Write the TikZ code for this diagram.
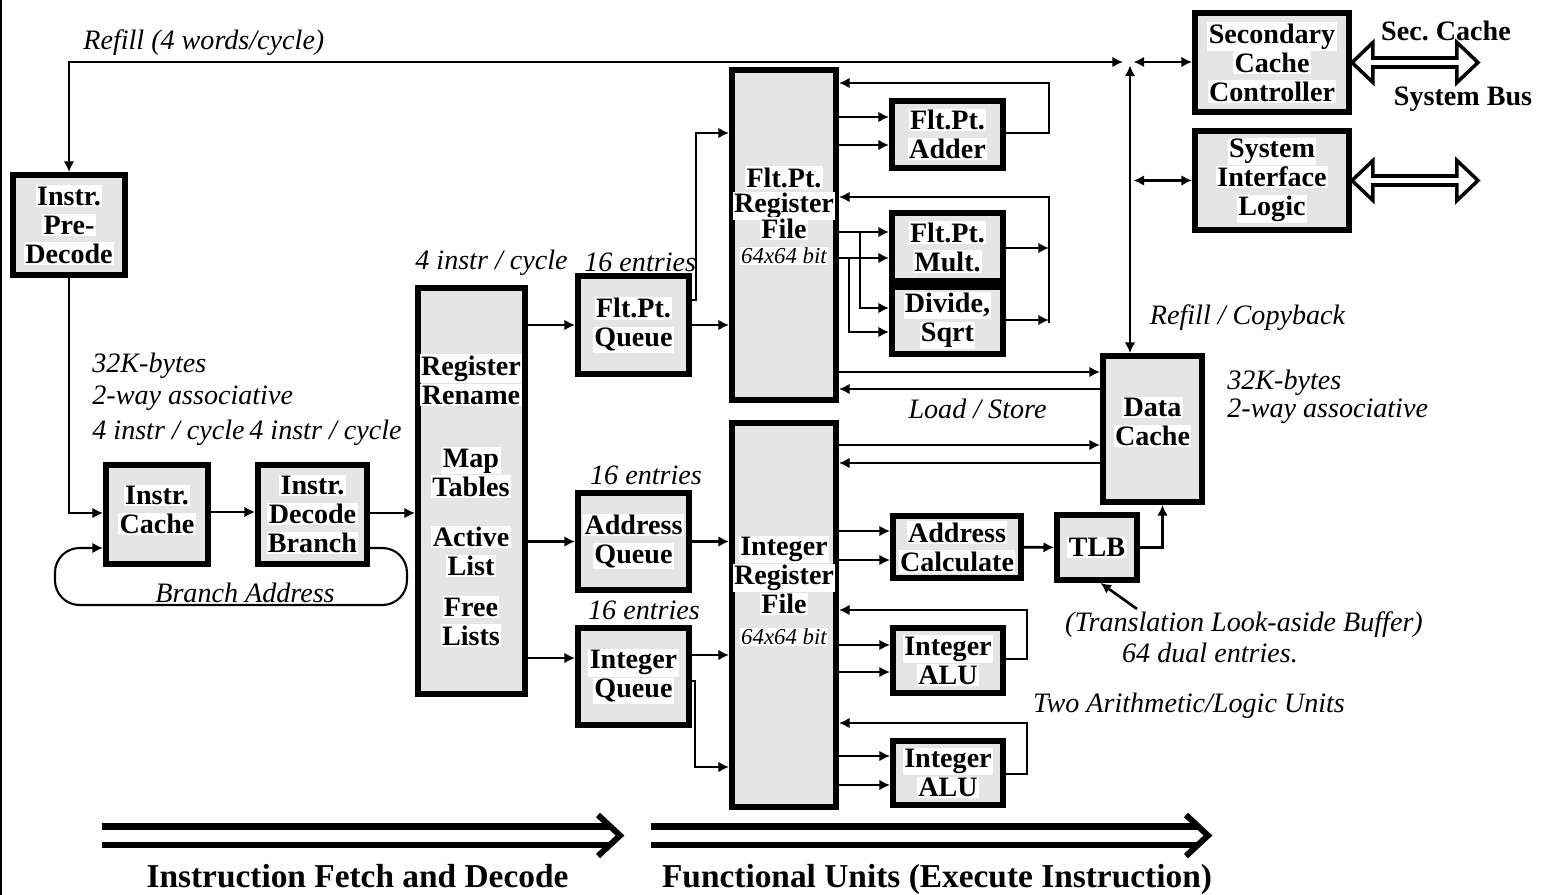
\documentclass[tikz,border=0pt]{standalone}
\usepackage{fontspec}
\setmainfont{Liberation Serif}
\usetikzlibrary{arrows.meta,calc}
\setlength{\fboxsep}{0.8pt}
\newcommand{\wt}[1]{\colorbox{white}{#1}}
\newcommand{\boxfont}{\fontsize{16}{16.5}\selectfont\bfseries\lineskiplimit=-30pt}
\newcommand{\rffont}{\fontsize{16}{14.5}\selectfont\bfseries\lineskiplimit=-30pt}
\newcommand{\lblfont}{\fontsize{16}{18}\selectfont\itshape}
\newcommand{\bitfont}{\fontsize{13}{14}\selectfont\itshape}

\begin{document}
\begin{tikzpicture}[x=0.02cm, y=-0.02cm,
blk/.style={draw, line width=3.4pt, fill=gray!20, align=center, inner sep=0pt, font=\boxfont},
txt/.style={align=center, inner sep=0pt, font=\boxfont},
lbl/.style={inner sep=0pt, font=\lblfont},
hdr/.style={inner sep=0pt, font=\fontsize{16}{18}\selectfont\bfseries},
arr/.style={-{Latex[length=6pt,width=6pt]}, line width=1.5pt},
arrb/.style={{Latex[length=6pt,width=6pt]}-{Latex[length=6pt,width=6pt]}, line width=1.5pt},
bus/.style={line width=2pt, fill=white, line join=miter},
bar/.style={line width=3.8pt}
]
\useasboundingbox (0,0) rectangle (1542,895);
\draw[line width=1.3pt] (1.2,0) -- (1.2,895);

% fetch and decode
\node[blk, minimum width=2.24cm, minimum height=2cm] (predec) at (69,225) {\wt{Instr.}\\\wt{Pre-}\\\wt{Decode}};
\node[blk, minimum width=2.04cm, minimum height=1.98cm] (icache) at (157,514.5) {};
\node[txt] (icachetxt) at (157,510) {\wt{Instr.}\\\wt{Cache}};
\node[blk, minimum width=2.18cm, minimum height=1.98cm] (decode) at (312.5,514.5) {\wt{Instr.}\\\wt{Decode}\\\wt{Branch}};
\node[blk, minimum width=2.14cm, minimum height=8.12cm] (rename) at (471.5,491) {};
\node[txt] (renameA) at (471,380) {\wt{Register}\\\wt{Rename}};
\node[txt] (renameB) at (471,472.5) {\wt{Map}\\\wt{Tables}};
\node[txt] (renameC) at (471,551.5) {\wt{Active}\\\wt{List}};
\node[txt] (renameD) at (471,621.5) {\wt{Free}\\\wt{Lists}};

% queues
\node[blk, minimum width=2.22cm, minimum height=1.96cm] (fpq) at (633.5,325) {\wt{Flt.Pt.}\\\wt{Queue}};
\node[blk, minimum width=2.22cm, minimum height=1.94cm] (addrq) at (633.5,541.5) {\wt{Address}\\\wt{Queue}};
\node[blk, minimum width=2.22cm, minimum height=1.94cm] (intq) at (633.5,676.5) {\wt{Integer}\\\wt{Queue}};

% register files
\node[blk, minimum width=2.08cm, minimum height=6.6cm] (fprf) at (784,235) {};
\node[txt, font=\rffont] (fprftxt) at (784,203) {\wt{Flt.Pt.}\\\wt{Register}\\\wt{File}};
\node[txt, font=\bitfont] (fprfbit) at (784,256) {\wt{64x64 bit}};
\node[blk, minimum width=2.08cm, minimum height=7.68cm] (irf) at (784,615) {};
\node[txt] (irftxt) at (784,575.5) {\wt{Integer}\\\wt{Register}\\\wt{File}};
\node[txt, font=\bitfont] (irfbit) at (784,637) {\wt{64x64 bit}};

% functional units
\node[blk, minimum width=2.22cm, minimum height=1.34cm] (fpadd) at (947.5,134.5) {\wt{Flt.Pt.}\\\wt{Adder}};
\node[blk, minimum width=2.22cm, minimum height=1.36cm] (fpmul) at (947.5,247) {\wt{Flt.Pt.}\\\wt{Mult.}};
\node[blk, minimum width=2.22cm, minimum height=1.34cm] (fpdiv) at (947.5,320.5) {\wt{Divide,}\\\wt{Sqrt}};
\node[blk, minimum width=2.56cm, minimum height=1.24cm] (addrcalc) at (957,547) {\wt{Address}\\\wt{Calculate}};
\node[blk, minimum width=1.6cm, minimum height=1.3cm] (tlb) at (1097,547.5) {\wt{TLB}};
\node[blk, minimum width=2.2cm, minimum height=1.3cm] (alu1) at (948,660.5) {\wt{Integer}\\\wt{ALU}};
\node[blk, minimum width=2.2cm, minimum height=1.28cm] (alu2) at (948,773) {\wt{Integer}\\\wt{ALU}};

% caches and interface
\node[blk, minimum width=1.98cm, minimum height=2.92cm] (dcache) at (1152.5,429) {};
\node[txt] (dcachetxt) at (1152.5,422) {\wt{Data}\\\wt{Cache}};
\node[blk, minimum width=3.08cm, minimum height=1.98cm] (seccache) at (1272,62.5) {\wt{Secondary}\\\wt{Cache}\\\wt{Controller}};
\node[blk, minimum width=3.08cm, minimum height=1.98cm] (sysif) at (1272,180.5) {\wt{System}\\\wt{Interface}\\\wt{Logic}};
\coordinate (jn) at (1130,62);
\coordinate (tlbptr) at (1137,609);

% labels
\node[lbl, anchor=west] (refilllbl) at (83,43) {Refill (4 words/cycle)};
\node[lbl, anchor=west] (ic32k) at (92,366) {32K-bytes};
\node[lbl, anchor=west] (icway) at (92,398) {2-way associative};
\node[lbl, anchor=west] (icrate) at (92,433) {4 instr / cycle};
\node[lbl, anchor=west] (decrate) at (249,433) {4 instr / cycle};
\node[lbl] (branchlbl) at (245,593) {Branch Address};
\node[lbl, anchor=west] (renrate) at (415,263) {4 instr / cycle};
\node[lbl, anchor=west] (fpqlbl) at (584,262) {16 entries};
\node[lbl] (addrqlbl) at (646,475) {16 entries};
\node[lbl] (intqlbl) at (644,610) {16 entries};
\node[lbl] (lslbl) at (977.5,409) {Load / Store};
\node[lbl] (copylbl) at (1247.5,318) {Refill / Copyback};
\node[lbl, anchor=west] (dc32k) at (1227,383) {32K-bytes};
\node[lbl, anchor=west] (dcway) at (1227,411) {2-way associative};
\node[lbl] (tlblbl) at (1244,625) {(Translation Look-aside Buffer)};
\node[lbl] (tlbent) at (1210,653) {64 dual entries.};
\node[lbl] (alulbl) at (1189,706) {Two Arithmetic/Logic Units};
\node[hdr] (seclbl) at (1446,31) {Sec.\ Cache};
\node[hdr] (buslbl) at (1463,99) {System Bus};
\node[hdr, anchor=base, font=\fontsize{19}{21}\selectfont\bfseries] (fetchlbl) at (357.5,887) {Instruction Fetch and Decode};
\node[hdr, anchor=base, font=\fontsize{19}{21}\selectfont\bfseries] (execlbl) at (937,887) {Functional Units (Execute Instruction)};

% refill and system side
\draw[arrb, line width=1.2pt, shorten >=4pt] (predec.north) |- (jn);
\draw[arrb, shorten <=2pt] (jn) -- (seccache.west |- jn);
\draw[arrb, shorten >=2pt] (jn |- dcache.north) -- (jn);
\draw[arrb, shorten <=2pt] (jn |- sysif.west) -- (sysif.west);
\draw[bus] (seccache.east) -- ++(21,-20) -- ++(0,15.5) -- ++(84,0) -- ++(0,-15.5) -- ++(21,20) -- ++(-21,20) -- ++(0,-15.5) -- ++(-84,0) -- ++(0,15.5) -- cycle;
\draw[bus] (sysif.east) -- ++(21,-20) -- ++(0,15.5) -- ++(84,0) -- ++(0,-15.5) -- ++(21,20) -- ++(-21,20) -- ++(0,-15.5) -- ++(-84,0) -- ++(0,15.5) -- cycle;

% fetch path
\draw[arr] (predec.south) |- (icache.west |- 0,513);
\draw[arr] (icache.east |- 0,512) -- (decode.west |- 0,512);
\draw[arr] (decode.east |- 0,513) -- (rename.west |- 0,513);
\draw[arr, line width=1.2pt, rounded corners=14pt] (decode.east |- 0,548) -- ++(37,0) -- ++(0,57) -- ++(-352,0) -- ++(0,-57) -- (icache.west |- 0,548);
\draw[arr] (rename.east |- fpq.west) -- (fpq.west);
\draw[arr] (rename.east |- addrq.west) -- (addrq.west);
\draw[arr] (rename.east |- 0,658) -- (intq.west |- 0,658);

% queues to register files
\draw[arr] (fpq.east) -- (fprf.west |- fpq.east);
\draw[arr] (fpq.east |- 0,300) -- ++(4,0) |- (fprf.west |- 0,133);
\draw[arr] (addrq.east) -- (irf.west |- addrq.east);
\draw[arr] (intq.east |- 0,655) -- (irf.west |- 0,655);
\draw[arr] (intq.east |- 0,681) -- ++(3,0) |- (irf.west |- 0,767);

% floating point units
\draw[arr] (fprf.east |- 0,117) -- (fpadd.west |- 0,117);
\draw[arr] (fprf.east |- 0,145) -- (fpadd.west |- 0,145);
\draw[arr] (fpadd.east |- 0,133) -- ++(43,0) |- (fprf.east |- 0,83);
\draw[arr] (fprf.east |- 0,232) -- (fpmul.west |- 0,232);
\draw[arr] (fprf.east |- 0,258) -- (fpmul.west |- 0,258);
\draw[arr] (fprf.east |- 0,232) ++(21,0) |- (fpdiv.west |- 0,308);
\draw[arr] (fprf.east |- 0,258) ++(10,0) |- (fpdiv.west |- 0,332);
\draw[arr] (fpmul.east |- 0,248) -- ++(43,0);
\draw[arr] (fpdiv.east |- 0,320) -- ++(43,0);
\draw[arr] (fpdiv.east |- 0,320) ++(43,3) |- (fprf.east |- 0,197);

% load / store
\draw[arr] (fprf.east |- 0,372) -- (dcache.west |- 0,372);
\draw[arr] (dcache.west |- 0,389) -- (fprf.east |- 0,389);
\draw[arr] (irf.east |- 0,445) -- (dcache.west |- 0,445);
\draw[arr] (dcache.west |- 0,463) -- (irf.east |- 0,463);

% integer units
\draw[arr] (irf.east |- 0,531) -- (addrcalc.west |- 0,531);
\draw[arr] (irf.east |- 0,560) -- (addrcalc.west |- 0,560);
\draw[arr] (addrcalc) -- (tlb);
\draw[arr] (tlb.east) -| ($(dcache.south)+(10,0)$);
\draw[arr] (tlbptr) -- ([xshift=2pt]tlb.south);
\draw[arr] (irf.east |- 0,645) -- (alu1.west |- 0,645);
\draw[arr] (irf.east |- 0,672) -- (alu1.west |- 0,672);
\draw[arr] (alu1.east |- 0,659) -- ++(21,0) |- (irf.east |- 0,610);
\draw[arr] (irf.east |- 0,756) -- (alu2.west |- 0,756);
\draw[arr] (irf.east |- 0,785) -- (alu2.west |- 0,785);
\draw[arr] (alu2.east |- 0,774) -- ++(21,0) |- (irf.east |- 0,723);

% stage arrows
\draw[bar] (102,826.5) -- (610,826.5);
\draw[bar] (102,845) -- (610,845);
\draw[line width=3.4pt] (598,815) -- (620,835.5) -- (598,856);
\draw[bar] (651,826.5) -- (1198,826.5);
\draw[bar] (651,845) -- (1198,845);
\draw[line width=3.4pt] (1186,815) -- (1208,835.5) -- (1186,856);
\end{tikzpicture}
\end{document}
